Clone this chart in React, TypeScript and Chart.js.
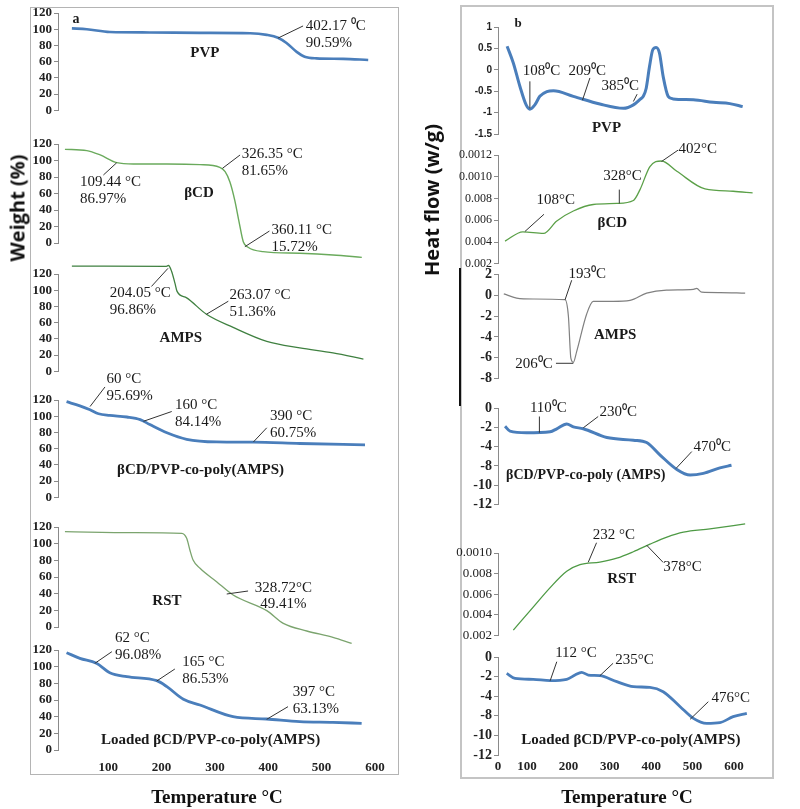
import React, { useEffect, useRef } from 'react';
import { Chart, registerables } from 'chart.js';

Chart.register(...registerables);

// ---------------- DATA ----------------
// Panel a : TGA, temperature (°C) vs weight (%)
const tgaPvpT = [32, 60, 103, 178, 272, 366, 397, 418, 434, 453, 468, 490, 540, 587];
const tgaPvpW = [101, 100, 96.5, 96, 95.5, 95, 93, 89.5, 83, 72, 66, 64, 63.4, 62];

const tgaCdT = [19, 60, 85, 116, 147, 210, 272, 309, 319, 328, 337, 345, 353, 362, 390, 459, 521, 575];
const tgaCdW = [113.5, 112, 106.7, 97.4, 95.8, 95.8, 95, 91.7, 86.5, 74, 52, 26, 1.6, -5.2, -10.5, -12.5, -14.5, -17.4];

const tgaAmpsT = [32, 209, 213, 219, 225, 229, 247, 284, 334, 397, 459, 521, 578];
const tgaAmpsW = [129.7, 129.5, 130.5, 122.8, 108.7, 98.6, 90.5, 70.3, 54.1, 36.8, 28.7, 22.6, 15];

const tgaGelT = [22, 47, 66, 82, 103, 135, 160, 178, 210, 247, 303, 372, 459, 581];
const tgaGelW = [117.9, 112.7, 107.9, 103, 101, 99, 95.8, 89.7, 79.6, 71.5, 68.2, 67.9, 66.3, 64.6];

const tgaRstT = [19, 147, 238, 247, 253, 259, 272, 303, 334, 397, 428, 472, 521, 556];
const tgaRstW = [114.4, 113.2, 112.4, 106.4, 92.4, 80.4, 70.4, 54.4, 38.4, 19.6, 4.4, -4.8, -12.4, -19.6];

const tgaLoadT = [22, 47, 78, 103, 135, 191, 210, 241, 272, 334, 397, 459, 521, 575];
const tgaLoadW = [116.8, 110, 104, 92.8, 88, 83.2, 76, 60.8, 54, 40, 37.2, 34, 33.2, 32];

const weightTicks = [0, 20, 40, 60, 80, 100, 120];
const tgaTempTicks = [100, 200, 300, 400, 500, 600];

// Panel b : DSC, temperature (°C) vs heat flow
const dscPvpT = [52, 67, 83, 98, 107, 119, 131, 148, 164, 212, 276, 333, 357, 373, 381, 388, 396, 404, 412, 420, 429, 441, 453, 502, 550, 590, 621];
const dscPvpH = [0.55, 0.16, -0.39, -0.82, -0.92, -0.82, -0.62, -0.51, -0.49, -0.62, -0.8, -0.9, -0.82, -0.69, -0.62, -0.43, 0.08, 0.47, 0.52, 0.39, -0.16, -0.62, -0.68, -0.7, -0.76, -0.79, -0.86];
const dscPvpTicks = [-1.5, -1, -0.5, 0, 0.5, 1];

// βCD and RST heat flow are kept in tick-position units (tick labels below)
const dscCdT = [47, 90, 140, 172, 212, 260, 317, 357, 373, 397, 425, 462, 530, 598, 645];
const dscCdH = [4.09, 4.94, 4.79, 5.94, 6.85, 7.45, 7.55, 7.82, 8.82, 10.94, 11.45, 10.5, 8.88, 8.67, 8.52];
const dscCdTicks = [2, 4, 6, 8, 10, 12];
const dscCdTickLabels = ['0.002', '0.004', '0.006', '0.008', '0.0010', '0.0012'];

const dscAmpsT = [44, 75, 115, 192, 200, 206, 212, 220, 244, 260, 308, 349, 389, 437, 502, 510, 522, 566, 627];
const dscAmpsH = [0.13, -0.27, -0.36, -0.43, -1.99, -6.04, -6.44, -5.41, -1.83, -0.59, -0.59, -0.5, 0.2, 0.5, 0.57, 0.66, 0.29, 0.25, 0.2];
const dscAmpsTicks = [-8, -6, -4, -2, 0, 2];

// gel and loaded gel: tick-position units, labels as printed on the reference
const dscGelT = [47, 59, 99, 156, 172, 196, 212, 236, 293, 357, 389, 421, 462, 494, 526, 566, 594];
const dscGelH = [-1.89, -2.39, -2.56, -2.46, -2.15, -1.65, -1.95, -2.15, -3.06, -3.33, -3.57, -4.85, -6.36, -6.94, -6.77, -6.2, -5.93];
const dscGelTicks = [-10, -8, -6, -4, -2, 0];
const dscGelTickLabels = ['-12', '-10', '-8', '-4', '-2', '0'];

const dscRstT = [67, 115, 156, 196, 228, 276, 317, 357, 397, 438, 478, 542, 627];
const dscRstH = [2.5, 4.73, 6.63, 8.22, 8.86, 9.11, 9.49, 10.12, 10.86, 11.55, 12.03, 12.35, 12.83];
const dscRstTicks = [2, 4, 6, 8, 10];
const dscRstTickLabels = ['0.002', '0.004', '0.006', '0.008', '0.0010'];

const dscLoadT = [51, 71, 115, 156, 196, 216, 232, 248, 276, 317, 357, 397, 429, 470, 502, 534, 566, 598, 631];
const dscLoadH = [-1.67, -2.18, -2.28, -2.41, -2.28, -1.84, -1.56, -1.84, -1.9, -2.52, -3.03, -3.1, -3.54, -5.07, -6.26, -6.77, -6.7, -6.09, -5.75];

const dscTempTicks = [30, 100, 200, 300, 400, 500, 600];
const dscTempTickLabels = ['0', '100', '200', '300', '400', '500', '600'];

// ---------------- STYLE ----------------
const SERIF = "'Liberation Serif', 'Times New Roman', Times, serif";
const SANS = "'Liberation Sans', Arial, sans-serif";
const BLUE = '#4a7ebb';

type Pt = [number, number];
type Lead = { a: Pt; b: Pt };
type Txt = { at: Pt; lines: string[]; align?: CanvasTextAlign; bold?: boolean; size?: number; lh?: number };

type Spec = {
  panel: 'L' | 'R';
  top: number; bottom: number; padT: number; padB: number; xAxisH: number;
  yMin: number; yMax: number; yTicks: number[]; yLabels?: string[];
  yFont: { size: number; weight: string; family: string };
  xs: number[]; ys: number[]; color: string; width: number;
  leads: Lead[]; texts: Txt[];
};

const GEO = {
  L: { axisX: 58, yW: 38, w: 375, padR: 6.5, xMin: 6, xMax: 625, xTicks: tgaTempTicks, xLabels: undefined as string[] | undefined, xPad: 10 },
  R: { axisX: 498, yW: 44, w: 316, padR: 15.32, xMin: 30, xMax: 650, xTicks: dscTempTicks, xLabels: dscTempTickLabels, xPad: 4 },
};

function notesPlugin(leads: Lead[], texts: Txt[]) {
  return {
    id: 'notes',
    afterDatasetsDraw(chart: any) {
      const { ctx } = chart;
      const sx = chart.scales.x;
      const sy = chart.scales.y;
      ctx.save();
      ctx.strokeStyle = '#333';
      ctx.lineWidth = 1;
      for (const l of leads) {
        ctx.beginPath();
        ctx.moveTo(sx.getPixelForValue(l.a[0]), sy.getPixelForValue(l.a[1]));
        ctx.lineTo(sx.getPixelForValue(l.b[0]), sy.getPixelForValue(l.b[1]));
        ctx.stroke();
      }
      ctx.fillStyle = '#1a1a1a';
      ctx.textBaseline = 'middle';
      for (const t of texts) {
        ctx.font = `${t.bold ? 'bold ' : ''}${t.size ?? 15}px ${SERIF}`;
        ctx.textAlign = t.align ?? 'left';
        const x0 = sx.getPixelForValue(t.at[0]);
        const y0 = sy.getPixelForValue(t.at[1]);
        t.lines.forEach((s, i) => ctx.fillText(s, x0, y0 + i * (t.lh ?? 17)));
      }
      ctx.restore();
    },
  };
}

function SubChart({ spec }: { spec: Spec }) {
  const ref = useRef<HTMLCanvasElement | null>(null);
  const g = GEO[spec.panel];
  const left = g.axisX - g.yW;
  const top = spec.top - spec.padT;
  const height = spec.bottom - spec.top + spec.padT + spec.padB + spec.xAxisH;
  useEffect(() => {
    if (!ref.current) return;
    const showX = spec.xAxisH > 0;
    const chart = new Chart(ref.current, {
      type: 'line',
      data: {
        datasets: [
          {
            data: spec.xs.map((x, i) => ({ x, y: spec.ys[i] })),
            borderColor: spec.color,
            borderWidth: spec.width,
            pointRadius: 0,
            cubicInterpolationMode: 'monotone',
            clip: false as any,
            fill: false,
          },
        ],
      },
      options: {
        responsive: false,
        animation: false,
        devicePixelRatio: 1,
        events: [],
        layout: { padding: { top: spec.padT, bottom: spec.padB, left: 0, right: g.padR } },
        plugins: { legend: { display: false }, tooltip: { enabled: false } },
        scales: {
          x: {
            type: 'linear',
            min: g.xMin,
            max: g.xMax,
            display: showX,
            afterBuildTicks: (s: any) => { s.ticks = g.xTicks.map((v) => ({ value: v })); },
            ...(showX ? { afterFit: (s: any) => { s.height = spec.xAxisH; } } : {}),
            grid: { display: false, drawTicks: false },
            border: { display: false },
            ticks: {
              autoSkip: false,
              maxRotation: 0,
              padding: g.xPad,
              color: '#222',
              font: { family: SERIF, size: 13, weight: 'bold' },
              callback: (v: any, i: number) => (g.xLabels ? g.xLabels[i] : String(v)),
            },
          },
          y: {
            type: 'linear',
            min: spec.yMin,
            max: spec.yMax,
            afterBuildTicks: (s: any) => { s.ticks = spec.yTicks.map((v) => ({ value: v })); },
            afterFit: (s: any) => { s.width = g.yW; },
            grid: { drawOnChartArea: false, drawTicks: true, tickLength: 4, color: '#8a8a8a' },
            border: { display: true, color: '#8a8a8a', width: 1 },
            ticks: {
              autoSkip: false,
              padding: 2,
              color: '#222',
              font: spec.yFont as any,
              callback: (v: any, i: number) => (spec.yLabels ? spec.yLabels[i] : String(v)),
            },
          },
        },
      } as any,
      plugins: [notesPlugin(spec.leads, spec.texts)],
    });
    return () => chart.destroy();
  }, [spec]);
  return (
    <canvas
      ref={ref}
      width={g.w}
      height={height}
      style={{ position: 'absolute', left, top, width: g.w, height }}
    />
  );
}

const leftFont = { family: SERIF, size: 13, weight: 'bold' };

const specs: Spec[] = [
  // ----- panel a -----
  {
    panel: 'L', top: 13, bottom: 112, padT: 10, padB: 8, xAxisH: 0,
    yMin: 0, yMax: 120, yTicks: weightTicks, yFont: leftFont,
    xs: tgaPvpT, ys: tgaPvpW, color: BLUE, width: 2.6,
    leads: [{ a: [418, 89], b: [465, 104] }],
    texts: [
      { at: [470, 103.4], lines: ['402.17 ⁰C', '90.59%'] },
      { at: [281, 71], lines: ['PVP'], align: 'center', bold: true },
      { at: [33, 112.7], lines: ['a'], bold: true, size: 14 },
    ],
  },
  {
    panel: 'L', top: 144, bottom: 243, padT: 12, padB: 22, xAxisH: 0,
    yMin: 0, yMax: 120, yTicks: weightTicks, yFont: leftFont,
    xs: tgaCdT, ys: tgaCdW, color: '#6aaa5c', width: 1.4,
    leads: [
      { a: [116, 97.3], b: [91, 82.4] },
      { a: [314, 90.5], b: [347, 106.7] },
      { a: [356, -4.5], b: [402, 14.5] },
    ],
    texts: [
      { at: [47, 74.3], lines: ['109.44 °C', '86.97%'] },
      { at: [350, 107.9], lines: ['326.35 °C', '81.65%'] },
      { at: [406, 15.8], lines: ['360.11 °C', '15.72%'] },
      { at: [270, 61], lines: ['βCD'], align: 'center', bold: true },
    ],
  },
  {
    panel: 'L', top: 274, bottom: 373, padT: 14, padB: 8, xAxisH: 0,
    yMin: 0, yMax: 120, yTicks: weightTicks, yFont: leftFont,
    xs: tgaAmpsT, ys: tgaAmpsW, color: '#3f8040', width: 1.3,
    leads: [
      { a: [212, 127], b: [181, 104.6] },
      { a: [284, 70.3], b: [325, 86.4] },
    ],
    texts: [
      { at: [103, 96.4], lines: ['204.05 °C', '96.86%'] },
      { at: [327, 94.5], lines: ['263.07 °C', '51.36%'] },
      { at: [236, 41.2], lines: ['AMPS'], align: 'center', bold: true },
    ],
  },
  {
    panel: 'L', top: 400, bottom: 499, padT: 32, padB: 8, xAxisH: 0,
    yMin: 0, yMax: 120, yTicks: weightTicks, yFont: leftFont,
    xs: tgaGelT, ys: tgaGelW, color: BLUE, width: 2.8,
    leads: [
      { a: [66, 111.9], b: [94, 136.1] },
      { a: [166, 93.7], b: [219, 105.8] },
      { a: [372, 68.2], b: [397, 85.7] },
    ],
    texts: [
      { at: [97, 146.3], lines: ['60 °C', '95.69%'] },
      { at: [225, 113.9], lines: ['160 °C', '84.14%'] },
      { at: [403, 99.8], lines: ['390 °C', '60.75%'] },
      { at: [273, 33], lines: ['βCD/PVP-co-poly(AMPS)'], align: 'center', bold: true },
    ],
  },
  {
    panel: 'L', top: 527, bottom: 627, padT: 10, padB: 24, xAxisH: 0,
    yMin: 0, yMax: 120, yTicks: weightTicks, yFont: leftFont,
    xs: tgaRstT, ys: tgaRstW, color: '#7ba46e', width: 1.3,
    leads: [{ a: [322, 39.6], b: [362, 43.2] }],
    texts: [
      { at: [428, 46.4], lines: ['328.72°C', '49.41%'], align: 'center', lh: 16 },
      { at: [210, 31.2], lines: ['RST'], align: 'center', bold: true },
    ],
  },
  {
    panel: 'L', top: 650, bottom: 750, padT: 22, padB: 4, xAxisH: 26,
    yMin: 0, yMax: 120, yTicks: weightTicks, yFont: leftFont,
    xs: tgaLoadT, ys: tgaLoadW, color: BLUE, width: 2.8,
    leads: [
      { a: [75, 104], b: [107, 118] },
      { a: [191, 82.8], b: [225, 97.2] },
      { a: [397, 36.8], b: [437, 52] },
    ],
    texts: [
      { at: [113, 134], lines: ['62 °C', '96.08%'] },
      { at: [239, 106], lines: ['165 °C', '86.53%'] },
      { at: [446, 70], lines: ['397 °C', '63.13%'] },
      { at: [292, 12], lines: ['Loaded βCD/PVP-co-poly(AMPS)'], align: 'center', bold: true },
    ],
  },
  // ----- panel b -----
  {
    panel: 'R', top: 27, bottom: 134, padT: 12, padB: 8, xAxisH: 0,
    yMin: -1.5, yMax: 1, yTicks: dscPvpTicks, yFont: { family: SANS, size: 10, weight: 'bold' },
    xs: dscPvpT, ys: dscPvpH, color: BLUE, width: 3,
    leads: [
      { a: [107, -0.9], b: [107, -0.27] },
      { a: [234, -0.71], b: [252, -0.19] },
      { a: [357, -0.74], b: [366, -0.57] },
    ],
    texts: [
      { at: [90, -0.02], lines: ['108⁰C'] },
      { at: [200, -0.02], lines: ['209⁰C'] },
      { at: [280, -0.37], lines: ['385⁰C'] },
      { at: [292, -1.36], lines: ['PVP'], align: 'center', bold: true },
      { at: [70, 1.07], lines: ['b'], bold: true, size: 13 },
    ],
  },
  {
    panel: 'R', top: 155, bottom: 265, padT: 14, padB: 8, xAxisH: 0,
    yMin: 2, yMax: 12, yTicks: dscCdTicks, yLabels: dscCdTickLabels, yFont: { family: SERIF, size: 12, weight: 'normal' },
    xs: dscCdT, ys: dscCdH, color: '#5ba048', width: 1.3,
    leads: [
      { a: [95, 4.97], b: [141, 6.55] },
      { a: [323, 7.55], b: [323, 8.82] },
      { a: [425, 11.4], b: [465, 12.45] },
    ],
    texts: [
      { at: [123, 7.9], lines: ['108°C'] },
      { at: [284, 10.03], lines: ['328°C'] },
      { at: [466, 12.55], lines: ['402°C'] },
      { at: [306, 5.73], lines: ['βCD'], align: 'center', bold: true },
    ],
  },
  {
    panel: 'R', top: 274, bottom: 381, padT: 10, padB: 8, xAxisH: 0,
    yMin: -8, yMax: 2, yTicks: dscAmpsTicks, yFont: { family: SERIF, size: 14, weight: 'bold' },
    xs: dscAmpsT, ys: dscAmpsH, color: '#808080', width: 1.2,
    leads: [
      { a: [192, -0.43], b: [208, 1.44] },
      { a: [170, -6.53], b: [212, -6.53] },
    ],
    texts: [
      { at: [200, 2.0], lines: ['193⁰C'] },
      { at: [162, -6.6], lines: ['206⁰C'], align: 'right' },
      { at: [313, -3.79], lines: ['AMPS'], align: 'center', bold: true },
    ],
  },
  {
    panel: 'R', top: 408, bottom: 507, padT: 12, padB: 8, xAxisH: 0,
    yMin: -10, yMax: 0, yTicks: dscGelTicks, yLabels: dscGelTickLabels, yFont: { family: SERIF, size: 14, weight: 'bold' },
    xs: dscGelT, ys: dscGelH, color: BLUE, width: 3,
    leads: [
      { a: [130, -2.56], b: [130, -0.88] },
      { a: [236, -2.05], b: [272, -0.88] },
      { a: [460, -6.26], b: [498, -4.51] },
    ],
    texts: [
      { at: [107, -0.03], lines: ['110⁰C'] },
      { at: [275, -0.37], lines: ['230⁰C'] },
      { at: [502, -4.07], lines: ['470⁰C'] },
      { at: [242, -6.94], lines: ['βCD/PVP-co-poly (AMPS)'], align: 'center', bold: true, size: 14 },
    ],
  },
  {
    panel: 'R', top: 553, bottom: 637, padT: 36, padB: 8, xAxisH: 0,
    yMin: 2, yMax: 10, yTicks: dscRstTicks, yLabels: dscRstTickLabels, yFont: { family: SERIF, size: 13, weight: 'normal' },
    xs: dscRstT, ys: dscRstH, color: '#4e9a45', width: 1.3,
    leads: [
      { a: [248, 9.1], b: [268, 11.0] },
      { a: [389, 10.76], b: [429, 9.08] },
    ],
    texts: [
      { at: [259, 11.71], lines: ['232 °C'] },
      { at: [429, 8.64], lines: ['378°C'] },
      { at: [329, 7.43], lines: ['RST'], align: 'center', bold: true },
    ],
  },
  {
    panel: 'R', top: 657, bottom: 755, padT: 14, padB: 2, xAxisH: 22,
    yMin: -10, yMax: 0, yTicks: dscGelTicks, yLabels: dscGelTickLabels, yFont: { family: SERIF, size: 14, weight: 'bold' },
    xs: dscLoadT, ys: dscLoadH, color: BLUE, width: 2.8,
    leads: [
      { a: [156, -2.42], b: [172, -0.48] },
      { a: [276, -1.91], b: [308, -0.64] },
      { a: [494, -6.36], b: [538, -4.56] },
    ],
    texts: [
      { at: [168, 0.38], lines: ['112 °C'] },
      { at: [313, -0.31], lines: ['235°C'] },
      { at: [546, -4.22], lines: ['476°C'] },
      { at: [351, -8.47], lines: ['Loaded βCD/PVP-co-poly(AMPS)'], align: 'center', bold: true },
    ],
  },
];

const abs = (s: React.CSSProperties): React.CSSProperties => ({ position: 'absolute', ...s });

export default function App() {
  return (
    <div style={abs({ left: 0, top: 0, width: 800, height: 809, background: '#fff', overflow: 'hidden' })}>
      {/* panel frames */}
      <div style={abs({ left: 30, top: 7, width: 367, height: 766, border: '1.5px solid #b4b4b4' })} />
      <div style={abs({ left: 460, top: 5, width: 310, height: 770, border: '2px solid #c4c4c4' })} />
      <div style={abs({ left: 459, top: 268, width: 2, height: 138, background: '#111' })} />

      {specs.map((s, i) => (
        <SubChart key={i} spec={s} />
      ))}

      {/* axis titles */}
      <div
        style={abs({
          left: 17, top: 208, transform: 'translate(-50%, -50%) rotate(-90deg)', whiteSpace: 'nowrap',
          fontFamily: "'Open Sans', sans-serif", fontWeight: 700, fontSize: 20, color: '#111',
        })}
      >
        Weight (%)
      </div>
      <div
        style={abs({
          left: 431, top: 200, transform: 'translate(-50%, -50%) rotate(-90deg)', whiteSpace: 'nowrap',
          fontFamily: "'Open Sans', sans-serif", fontWeight: 700, fontSize: 20, color: '#111',
        })}
      >
        Heat flow (w/g)
      </div>
      <div
        style={abs({
          left: 217, top: 797, transform: 'translate(-50%, -50%)', whiteSpace: 'nowrap',
          fontFamily: SERIF, fontWeight: 700, fontSize: 19, color: '#111',
        })}
      >
        Temperature °C
      </div>
      <div
        style={abs({
          left: 627, top: 797, transform: 'translate(-50%, -50%)', whiteSpace: 'nowrap',
          fontFamily: SERIF, fontWeight: 700, fontSize: 19, color: '#111',
        })}
      >
        Temperature °C
      </div>
    </div>
  );
}
